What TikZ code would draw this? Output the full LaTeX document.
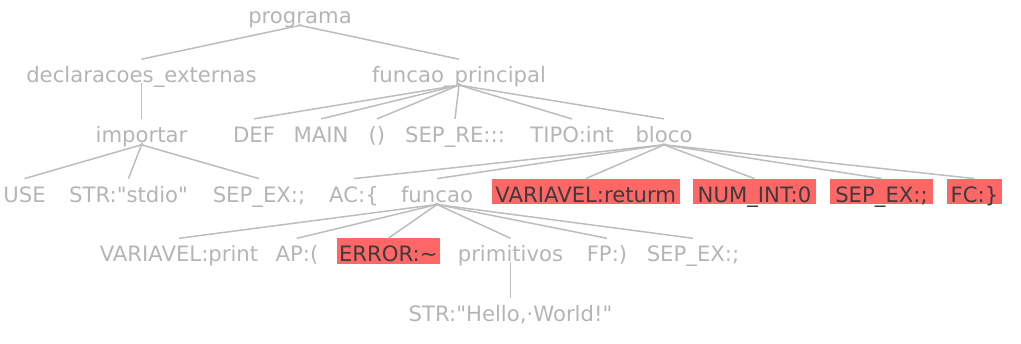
\documentclass[tikz,border=0pt]{standalone}
\usepackage{fontspec}
\setmainfont{DejaVu Sans}
\definecolor{txtgray}{HTML}{B5B5B5}
\definecolor{linegray}{HTML}{BDBDBD}
\definecolor{errred}{HTML}{FF6666}
\definecolor{errtext}{HTML}{3C3C3C}
\begin{document}
\begin{tikzpicture}[x=1pt,y=-1pt,
  tn/.style={inner xsep=4pt, inner ysep=2pt, text height=21.5pt, text depth=0pt,
             text=txtgray, font=\fontsize{21.2}{25}\selectfont},
  errn/.style={tn, inner xsep=0pt, fill=errred, text=errtext, minimum width=#1},
  link/.style={draw=linegray, line width=1.5pt, shorten <=-2pt}]
\useasboundingbox (0,0) rectangle (1021,344);
% row centres
\def\ra{12.45}\def\rb{72.15}\def\rc{131.85}\def\rd{191.55}\def\re{251.25}\def\rf{310.95}
\node[tn] (prog) at (300,\ra) {programa};
\node[tn] (decl) at (141.5,\rb) {declaracoes\_externas};
\node[tn] (fp)   at (459,\rb) {funcao\_principal};
\node[tn] (imp)  at (141.5,\rc) {importar};
\node[tn] (def)  at (254,\rc) {DEF};
\node[tn] (main) at (321,\rc) {MAIN};
\node[tn] (par)  at (377,\rc) {()};
\node[tn] (sepre) at (455,\rc) {SEP\_RE:::};
\node[tn] (tipo) at (572,\rc) {TIPO:int};
\node[tn] (bloco) at (664,\rc) {bloco};
\node[tn] (use)  at (24.5,\rd) {USE};
\node[tn] (stdio) at (128.5,\rd) {STR:\textquotedbl stdio\textquotedbl};
\node[tn] (sepa) at (259,\rd) {SEP\_EX:;};
\node[tn] (ac)   at (354,\rd) {AC:\{};
\node[tn] (func) at (437,\rd) {funcao};
\node[errn=188.3pt] (ret) at (585.8,\rd) {VARIAVEL:returm};
\node[errn=123pt] (num) at (754.5,\rd) {NUM\_INT:0};
\node[errn=103pt] (sepb) at (881.5,\rd) {SEP\_EX:;};
\node[errn=55pt] (fc) at (974.5,\rd) {FC:\}};
\node[tn] (print) at (179,\re) {VARIAVEL:print};
\node[tn] (ap)   at (297,\re) {AP:(};
\node[errn=103.3pt] (err) at (388.3,\re) {ERROR:\textasciitilde};
\node[tn] (prim) at (510.5,\re) {primitivos};
\node[tn] (fpar) at (607,\re) {FP:)};
\node[tn] (sepc) at (693,\re) {SEP\_EX:;};
\node[tn] (hello) at (510.5,\rf) {STR:\textquotedbl Hello,·World!\textquotedbl};
% connectors
\foreach \p/\c in {prog/decl, prog/fp, decl/imp,
  fp/def, fp/main, fp/par, fp/sepre, fp/tipo, fp/bloco,
  imp/use, imp/stdio, imp/sepa,
  bloco/ac, bloco/func, bloco/ret, bloco/num, bloco/sepb, bloco/fc,
  func/print, func/ap, func/err, func/prim, func/fpar, func/sepc,
  prim/hello}
  \draw[link] (\p.south) -- (\c.north);
\end{tikzpicture}
\end{document}
